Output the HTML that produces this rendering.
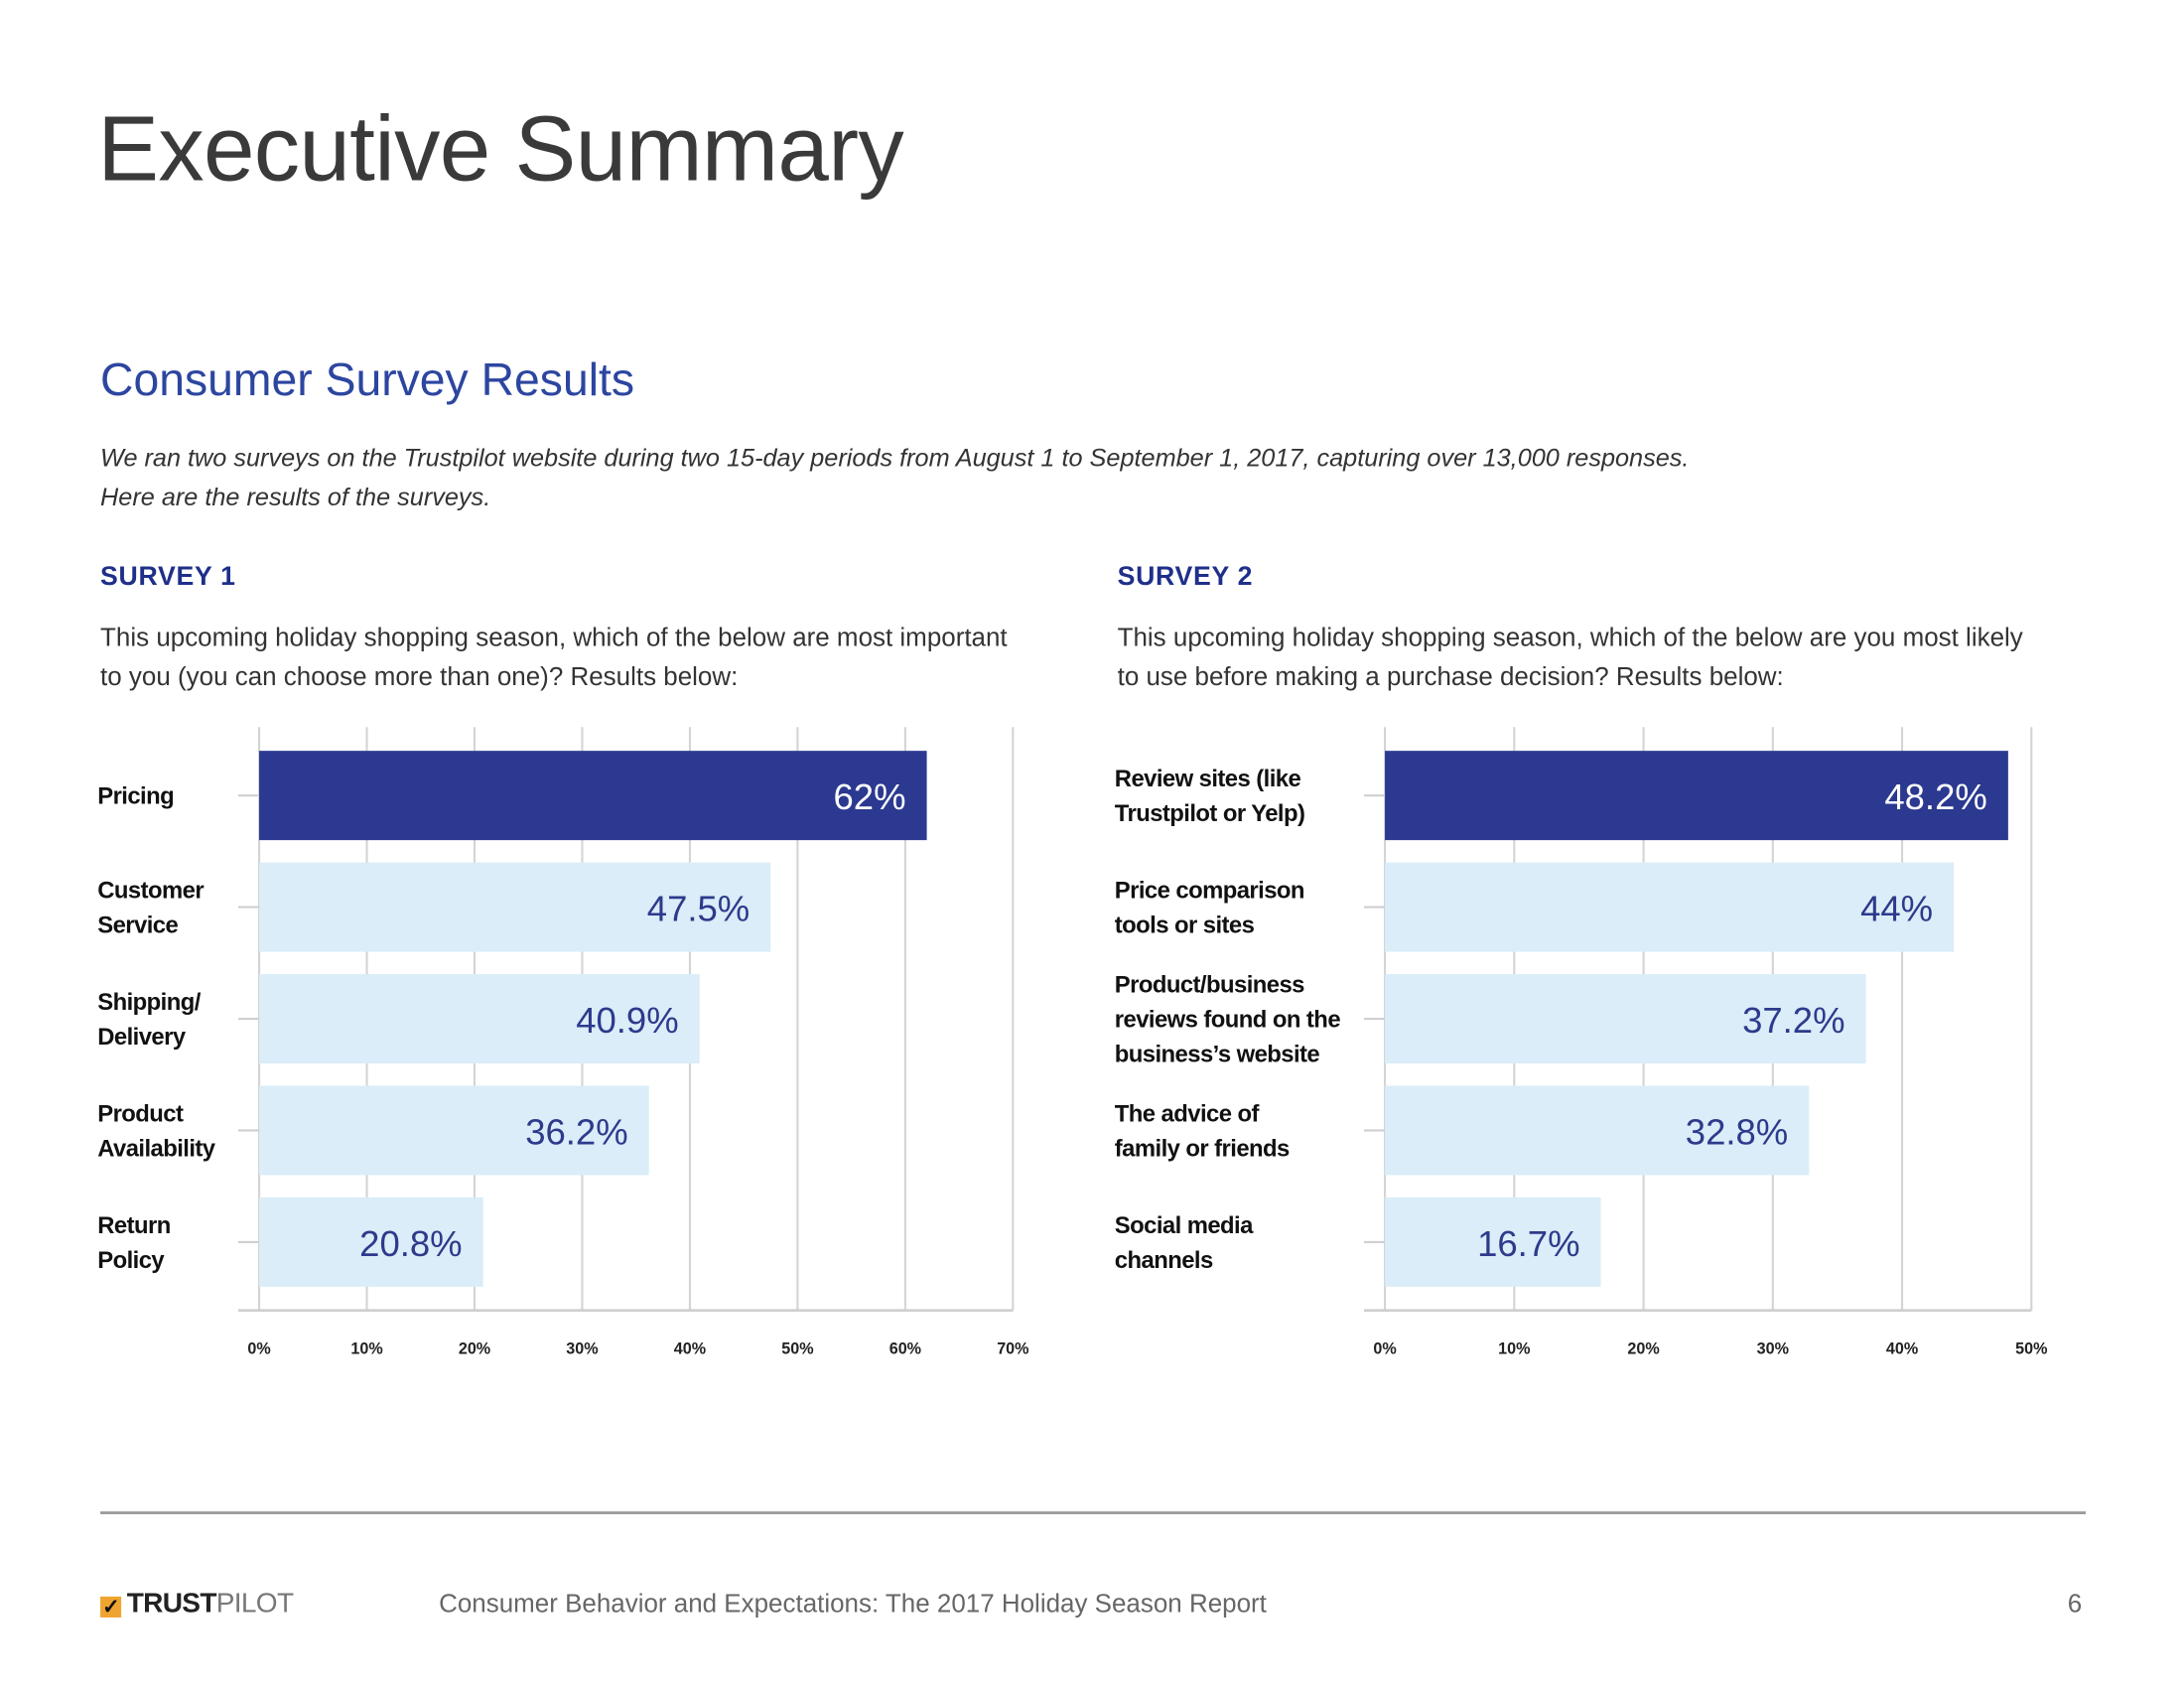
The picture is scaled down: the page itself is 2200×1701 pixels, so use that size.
<!DOCTYPE html>
<html><head><meta charset="utf-8">
<style>
html,body{margin:0;padding:0;background:#fff;}
body{width:2200px;height:1700px;overflow:hidden;position:relative;}
#page{position:absolute;left:0;top:0;width:1567px;height:1210px;transform:scale(1.4035,1.4055);transform-origin:0 0;font-family:"Liberation Sans",sans-serif;}
.abs{position:absolute;margin:0;white-space:nowrap;}
</style></head>
<body>
<div id="page">
  <div class="abs" style="left:70px;top:68px;font-size:66px;color:#3a3a3a;letter-spacing:-0.5px;">Executive Summary</div>
  <div class="abs" style="left:72px;top:253px;font-size:33px;color:#2c46a0;">Consumer Survey Results</div>
  <div class="abs" style="left:72px;top:314px;font-size:18px;font-style:italic;color:#333;line-height:28px;">We ran two surveys on the Trustpilot website during two 15-day periods from August 1 to September 1, 2017, capturing over 13,000 responses.<br>Here are the results of the surveys.</div>
  <div class="abs" style="left:72px;top:403px;font-size:19px;font-weight:bold;color:#1f2f8a;letter-spacing:0.5px;">SURVEY 1</div>
  <div class="abs" style="left:802px;top:403px;font-size:19px;font-weight:bold;color:#1f2f8a;letter-spacing:0.5px;">SURVEY 2</div>
  <div class="abs" style="left:72px;top:443px;font-size:18.5px;color:#333;line-height:28px;">This upcoming holiday shopping season, which of the below are most important<br>to you (you can choose more than one)? Results below:</div>
  <div class="abs" style="left:802px;top:443px;font-size:18.5px;color:#333;line-height:28px;">This upcoming holiday shopping season, which of the below are you most likely<br>to use before making a purchase decision? Results below:</div>
  <svg id="charts" width="1567" height="1210" style="position:absolute;left:0;top:0;"></svg>
  <div class="abs" style="left:72px;top:1083px;width:1425px;height:2px;background:#9a9a9a;"></div>
  <div class="abs" style="left:72px;top:1138px;font-size:20px;font-weight:bold;color:#222;letter-spacing:-0.5px;"><span style="display:inline-block;width:15px;height:15px;background:#f0a430;color:#111;font-size:15px;line-height:15px;vertical-align:-1px;margin-right:4px;text-align:center;">✓</span>TRUST<span style="color:#777;font-weight:normal;">PILOT</span></div>
  <div class="abs" style="left:315px;top:1138px;font-size:18.5px;color:#666;">Consumer Behavior and Expectations: The 2017 Holiday Season Report</div>
  <div class="abs" style="left:1484px;top:1138px;font-size:18.5px;color:#666;">6</div>
</div>
<script>
const s1Categories = [["Pricing"],["Customer","Service"],["Shipping/","Delivery"],["Product","Availability"],["Return","Policy"]];
const s1Values = [62, 47.5, 40.9, 36.2, 20.8];
const s1Labels = ["62%","47.5%","40.9%","36.2%","20.8%"];
const s1Ticks = [0,10,20,30,40,50,60,70];
const s2Categories = [["Review sites (like","Trustpilot or Yelp)"],["Price comparison","tools or sites"],["Product/business","reviews found on the","business’s website"],["The advice of","family or friends"],["Social media","channels"]];
const s2Values = [48.2, 44, 37.2, 32.8, 16.7];
const s2Labels = ["48.2%","44%","37.2%","32.8%","16.7%"];
const s2Ticks = [0,10,20,30,40,50];

const NS = "http://www.w3.org/2000/svg";
const svg = document.getElementById("charts");
function mk(tag, attrs, parent){
  const e = document.createElementNS(NS, tag);
  for (const k in attrs) e.setAttribute(k, attrs[k]);
  (parent||svg).appendChild(e);
  return e;
}
function drawChart(prefix, cats, vals, labels, ticks, x0, x1, labelX){
  const maxV = ticks[ticks.length-1];
  const xs = v => x0 + (x1 - x0) * v / maxV;
  const top = 521, axisY = 939, firstBar = 538, step = 80, bh = 64;
  const ys = i => firstBar + i * step;
  const g = mk("g", {});
  
  
  ticks.forEach(t => {
    const gl = mk("line", {x1:xs(t), x2:xs(t), y1:top, y2:axisY, stroke:"#d4d4d4", "stroke-width":1.5}, g);
    
    
    const tl = mk("text", {x:xs(t), y:970, "text-anchor":"middle", "font-size":11.5, "font-weight":"bold", fill:"#222", "font-family":"Liberation Sans, sans-serif"}, g);
    tl.textContent = t + "%";
    
    
  });
  const ax = mk("line", {x1:xs(0)-15, x2:xs(maxV), y1:axisY, y2:axisY, stroke:"#cfcfcf", "stroke-width":2}, g);
  
  
  vals.forEach((v, i) => {
    const y = ys(i);
    const dark = i === 0;
    const r = mk("rect", {x:xs(0), y:y, width:xs(v)-xs(0), height:bh, fill: dark ? "#2b3990" : "#daedf8"}, g);
    
    
    const tk = mk("line", {x1:xs(0)-15, x2:xs(0), y1:y+bh/2, y2:y+bh/2, stroke:"#cfcfcf", "stroke-width":1.5}, g);
    
    
    const vl = mk("text", {x:xs(v)-15, y:y+bh/2+10, "text-anchor":"end", "font-size":26, fill: dark ? "#ffffff" : "#2d3a8c", "font-family":"Liberation Sans, sans-serif"}, g);
    vl.textContent = labels[i];
    
    
    const lines = cats[i];
    const lh = 25;
    const startY = y + bh/2 - (lines.length-1)*lh/2 + 6;
    const cl = mk("text", {x:labelX, y:startY, "font-size":17, "font-weight":"bold", fill:"#111", "font-family":"Liberation Sans, sans-serif", "letter-spacing":"-0.4"}, g);
    
    
    lines.forEach((ln, j) => {
      const ts = mk("tspan", {x:labelX, y:startY + j*lh}, cl);
      ts.textContent = ln;
    });
  });
}
drawChart("survey-1", s1Categories, s1Values, s1Labels, s1Ticks, 186, 727, 70);
drawChart("survey-2", s2Categories, s2Values, s2Labels, s2Ticks, 994, 1458, 800);
</script>
</body></html>
